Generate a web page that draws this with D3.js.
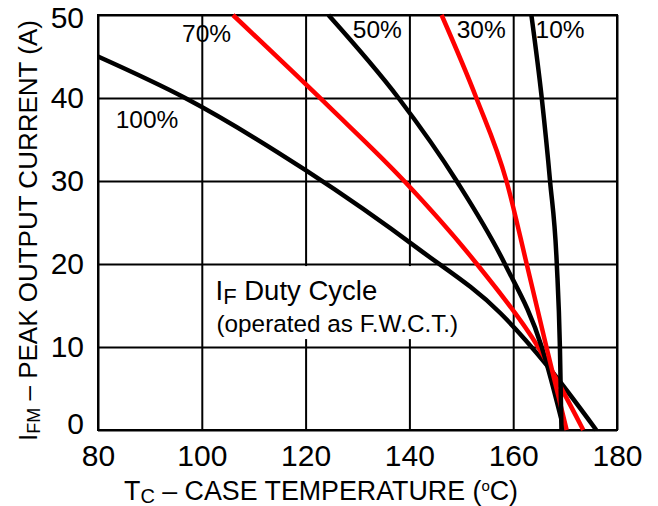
<!DOCTYPE html>
<html>
<head>
<meta charset="utf-8">
<script src="https://cdn.jsdelivr.net/npm/d3@7"></script>
<style>
  html, body { margin: 0; padding: 0; background: #fff; }
  svg { display: block; }
  text { font-family: "Liberation Sans", Arial, sans-serif; fill: #000; }
</style>
</head>
<body>
<script>
// ---- data ----
const xTicks = [80, 100, 120, 140, 160, 180];
const yTicks = [0, 10, 20, 30, 40, 50];

const duty100 = [[80, 45], [96.8, 40], [120, 31.3], [142, 21.7], [157.5, 14.1], [166.5, 7.8], [176, 0]];
const duty70 = [[106, 50], [124.6, 38.9], [139, 30], [153, 20], [164.8, 10], [173.5, 0]];
const duty50 = [[124.4, 50], [137.9, 40], [149.1, 30], [158.4, 20], [165.5, 10], [169.8, 0]];
const duty30 = [[146.2, 50], [152.9, 40], [158.7, 30], [162.6, 20], [166.4, 10], [170.3, 0]];
const duty10 = [[163.5, 50], [165.5, 40], [167.1, 30], [168.4, 20], [169.0, 10], [169.3, 0]];

const seriesNames = ["100%", "70%", "50%", "30%", "10%"];
const seriesData = [duty100, duty70, duty50, duty30, duty10];
const seriesColors = ["#000000", "#ff0000", "#000000", "#ff0000", "#000000"];
// label anchor positions in data units [T, I]
const labelPos = [[83.4, 36.4], [96.2, 46.7], [129.1, 47.2], [149.1, 47.2], [164.3, 47.2]];

// ---- layout ----
const W = 658, H = 506;
const L = 98, R = 617, T = 15, B = 430;

const svg = d3.select("body").append("svg").attr("width", W).attr("height", H);
svg.append("rect").attr("width", W).attr("height", H).attr("fill", "#fff");

const x = d3.scaleLinear().domain([80, 180]).range([L, R]);
const y = d3.scaleLinear().domain([0, 50]).range([B, T]);

// x grid + labels
const gx = svg.append("g").attr("transform", `translate(0,${B})`)
  .call(d3.axisBottom(x).tickValues(xTicks).tickSize(-(B - T)).tickPadding(15).tickFormat(d3.format("d")));
gx.select(".domain").remove();
gx.attr("font-family", null).attr("font-size", null);
gx.selectAll("line").attr("stroke", "#000").attr("stroke-width", 2);
gx.selectAll("text").attr("font-size", 30).attr("fill", "#000");

// y grid + labels
const gy = svg.append("g").attr("transform", `translate(${L},0)`)
  .call(d3.axisLeft(y).tickValues(yTicks).tickSize(-(R - L)).tickPadding(14).tickFormat(d3.format("d")));
gy.select(".domain").remove();
gy.attr("font-family", null).attr("font-size", null);
gy.selectAll("line").attr("stroke", "#000").attr("stroke-width", 2);
gy.selectAll("text").attr("font-size", 30).attr("fill", "#000")
  .attr("dy", d => d === 50 ? "0.42em" : (d === 0 ? "0.1em" : "0.32em"));

// frame
svg.append("rect").attr("x", L).attr("y", T).attr("width", R - L).attr("height", B - T)
  .attr("fill", "none").attr("stroke", "#000").attr("stroke-width", 2);

// annotation background box
svg.append("rect").attr("x", x(101.9)).attr("y", y(19.75)).attr("width", 257).attr("height", 73)
  .attr("fill", "#fff");

// curves
const line = d3.line().x(d => x(d[0])).y(d => y(d[1])).curve(d3.curveMonotoneX);
svg.append("g").selectAll("path").data(seriesData).join("path")
  .attr("d", line)
  .attr("fill", "none")
  .attr("stroke", (d, i) => seriesColors[i])
  .attr("stroke-width", 4.5)
  .attr("stroke-linejoin", "round");

// curve labels
svg.append("g").selectAll("text").data(seriesNames).join("text")
  .attr("x", (d, i) => x(labelPos[i][0]))
  .attr("y", (d, i) => y(labelPos[i][1]))
  .attr("font-size", 24.5)
  .text(d => d);

// annotation text
const a1 = svg.append("text").attr("x", 215.5).attr("y", 300).attr("font-size", 27.5);
a1.append("tspan").text("I");
a1.append("tspan").attr("font-size", 22).attr("dy", 4).text("F");
a1.append("tspan").attr("dy", -4).text(" Duty Cycle");
svg.append("text").attr("x", 216.5).attr("y", 332).attr("font-size", 24.3).text("(operated as F.W.C.T.)");

// x axis title
const xt = svg.append("text").attr("x", 124).attr("y", 500).attr("font-size", 26.8);
xt.append("tspan").text("T");
xt.append("tspan").attr("font-size", 20).attr("dy", 3).text("C");
xt.append("tspan").attr("dy", -3).text(" \u2013 CASE TEMPERATURE (");
xt.append("tspan").attr("font-size", 15).attr("dy", -9).text("o");
xt.append("tspan").attr("dy", 9).text("C)");

// y axis title
const yt = svg.append("text").attr("transform", "rotate(-90)").attr("x", -441).attr("y", 37).attr("font-size", 26);
yt.append("tspan").text("I");
yt.append("tspan").attr("font-size", 18).attr("dy", 3).text("FM");
yt.append("tspan").attr("dy", -3).text(" \u2013 PEAK OUTPUT CURRENT (A)");
</script>
</body>
</html>
